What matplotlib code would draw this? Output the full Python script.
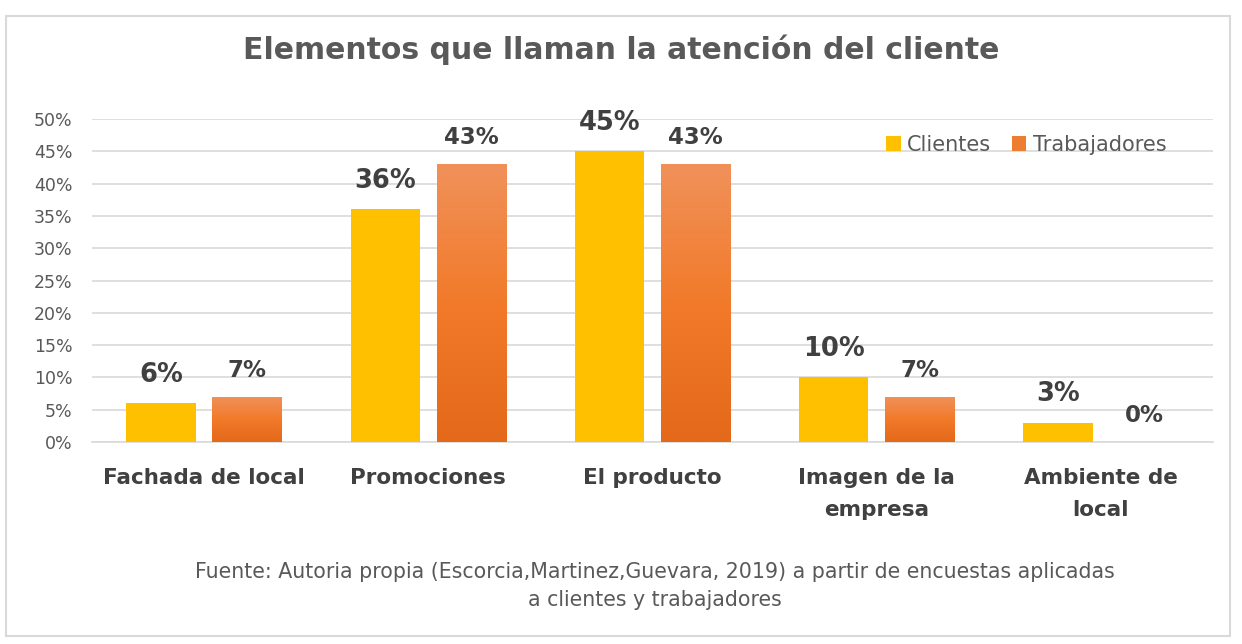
import matplotlib.pyplot as plt
import numpy as np
from matplotlib.patches import Rectangle
from matplotlib.colors import LinearSegmentedColormap

categorias = ['Fachada de local', 'Promociones', 'El producto',
              'Imagen de la\nempresa', 'Ambiente de\nlocal']
clientes = [6, 36, 45, 10, 3]
trabajadores = [7, 43, 43, 7, 0]
yticks = [0, 5, 10, 15, 20, 25, 30, 35, 40, 45, 50]

W, H = 1242, 644
fig = plt.figure(figsize=(W / 100, H / 100), dpi=100)

# marco exterior
fig.patches.append(Rectangle((6 / W, 8 / H), 1224 / W, 620 / H, transform=fig.transFigure,
                             fill=False, edgecolor='#d9d9d9', linewidth=1.5))

ax = fig.add_axes([92 / W, 1 - 442 / H, (1213 - 92) / W, (442 - 119) / H])

x = np.arange(len(categorias))
bw = 0.31
off = 0.192

b1 = ax.bar(x - off, clientes, bw, color='#ffc000', label='Clientes', zorder=3)
b2 = ax.bar(x + off, trabajadores, bw, color='#ed7d31', label='Trabajadores', zorder=3)

# degradado para las barras naranjas
cmap = LinearSegmentedColormap.from_list('nar', ['#e4691a', '#f27a2a', '#f0915a'])
grad = np.linspace(0, 1, 256).reshape(-1, 1)
for r in b2:
    h = r.get_height()
    if h <= 0:
        continue
    x0 = r.get_x()
    im = ax.imshow(grad, cmap=cmap, aspect='auto', origin='lower',
                   extent=[x0, x0 + r.get_width(), 0, h], zorder=4)
    im.set_clip_path(r)

ax.set_xlim(-0.5, 4.5)
ax.set_ylim(0, 50)
ax.set_yticks(yticks)
ax.set_yticklabels([f'{v}%' for v in yticks])
ax.grid(axis='y', color='#d9d9d9', linewidth=1.2, zorder=0)
for s in ['top', 'right', 'left']:
    ax.spines[s].set_visible(False)
ax.spines['bottom'].set_color('#d9d9d9')
ax.spines['bottom'].set_linewidth(1.2)
ax.tick_params(axis='y', length=0, labelsize=12.5, labelcolor='#595959', pad=14)
ax.tick_params(axis='x', length=0, labelsize=15.5, labelcolor='#404040', pad=19)
ax.set_xticks(x)
ax.set_xticklabels(categorias, fontweight='bold', linespacing=1.75, va='top')

for r, v in zip(b1, clientes):
    ax.annotate(f'{v}%', (r.get_x() + r.get_width() / 2, v), xytext=(0, 11),
                textcoords='offset points', ha='center', va='bottom',
                fontsize=18.5, fontweight='bold', color='#404040', zorder=6)
for r, v in zip(b2, trabajadores):
    ax.annotate(f'{v}%', (r.get_x() + r.get_width() / 2, v), xytext=(0, 11),
                textcoords='offset points', ha='center', va='bottom',
                fontsize=16.5, fontweight='bold', color='#404040', zorder=6)

leg = ax.legend(loc='upper right', bbox_to_anchor=(0.975, 1.01), ncol=2, frameon=False,
                fontsize=15, handlelength=0.7, handleheight=0.7, handletextpad=0.3,
                columnspacing=1.0)
for t in leg.get_texts():
    t.set_color('#595959')

fig.text(0.5, 1 - 50 / H, 'Elementos que llaman la atención del cliente',
         ha='center', va='center', fontsize=21.5, fontweight='bold', color='#595959')

fig.text(655 / W, 1 - 586 / H,
         'Fuente: Autoria propia (Escorcia,Martinez,Guevara, 2019) a partir de encuestas aplicadas\na clientes y trabajadores',
         ha='center', va='center', fontsize=14.8, color='#595959', linespacing=1.45)

fig.savefig('out.png', dpi=100)
